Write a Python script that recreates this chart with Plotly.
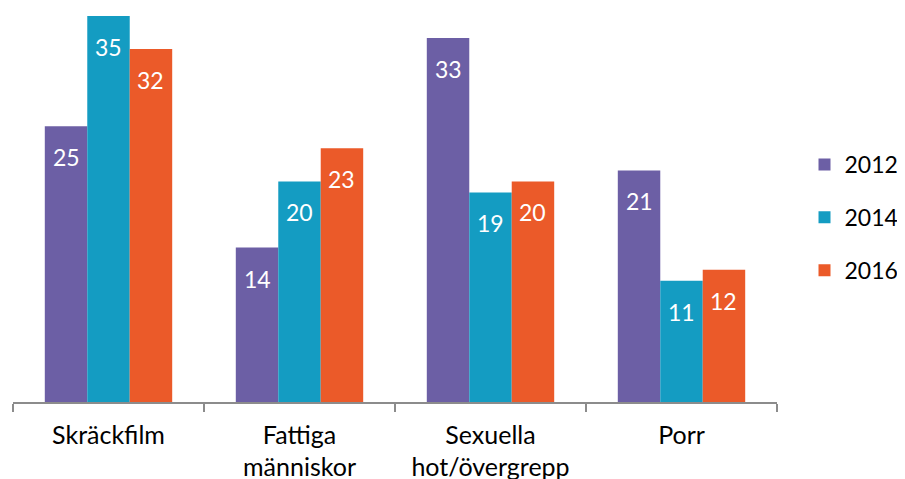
import plotly.graph_objects as go

categories = ["Skräckfilm", "Fattiga<br>människor", "Sexuella<br>hot/övergrepp", "Porr"]
series_names = ["2012", "2014", "2016"]
values_2012 = [25, 14, 33, 21]
values_2014 = [35, 20, 19, 11]
values_2016 = [32, 23, 20, 12]
colors = ["#6C5FA5", "#149CC2", "#EB5A29"]

series_values = [values_2012, values_2014, values_2016]

# page body has an 8px default margin, so the figure is sized to fit the window
W, H = 897, 471
ML, MR, MT, MB = 5, 128, 8, 77
BARGAP = 0.333
FONT = "Lato"

fig = go.Figure()
for name, vals, col in zip(series_names, series_values, colors):
    fig.add_trace(go.Bar(
        x=categories, y=vals, name=name, marker_color=col,
        marker_line_width=0, legendgroup=name, hoverinfo="skip",
    ))

# data labels inside bars, below the top
plot_w = W - ML - MR
cat_px = plot_w / len(categories)
bar_px = cat_px * (1 - BARGAP) / len(series_names)
annotations = []
for si, vals in enumerate(series_values):
    for ci, v in enumerate(vals):
        annotations.append(dict(
            x=categories[ci], y=v, xref="x", yref="y",
            text=str(v), showarrow=False,
            xshift=(si - 1) * bar_px, yshift=-31,
            yanchor="middle", xanchor="center",
            font=dict(family=FONT, size=23, color="white"),
        ))

fig.update_layout(
    width=W, height=H,
    margin=dict(l=ML, r=MR, t=MT, b=MB, pad=0, autoexpand=False),
    paper_bgcolor="white", plot_bgcolor="white",
    barmode="group", bargap=BARGAP, bargroupgap=0,
    showlegend=True,
    legend=dict(
        x=1.036, y=0.478, xanchor="left", yanchor="middle",
        font=dict(family=FONT, size=23, color="black"),
        traceorder="grouped", tracegroupgap=20,
        itemwidth=30, bgcolor="rgba(0,0,0,0)",
    ),
    annotations=annotations,
    xaxis=dict(
        type="category", showline=True, linecolor="#8C8C8C", linewidth=1.5,
        ticks="outside", tickson="boundaries", ticklen=8, tickcolor="#8C8C8C",
        tickwidth=1.5, showgrid=False, automargin=False,
        ticklabelstandoff=10,
        tickfont=dict(family=FONT, size=25, color="black"),
    ),
    yaxis=dict(visible=False, range=[0, 35], showgrid=False, zeroline=False),
)

fig.write_html("out.html")
